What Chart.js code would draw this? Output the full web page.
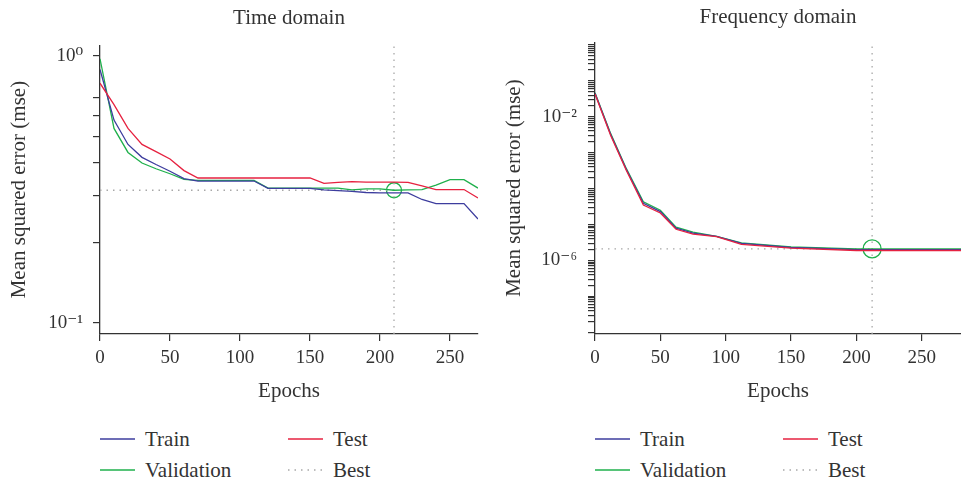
<!DOCTYPE html>
<html lang="en">
<head>
<meta charset="utf-8"/>
<title>Training performance: time and frequency domain</title>
<script src="https://cdn.jsdelivr.net/npm/chart.js"></script>
<style>
  body {
    margin: 0;
    background: #fff;
    color: #333;
    font-family: 'Liberation Serif', 'DejaVu Serif', serif;
  }
  #page {
    position: relative;
    width: 961px;
    height: 483px;
    overflow: hidden;
  }
  .panel {
    position: absolute;
    top: 0;
    height: 410px;
  }
  .key {
    position: absolute;
    height: 26px;
    display: flex;
    align-items: center;
    font-size: 21px;
    white-space: nowrap;
  }
  .key svg {
    margin-right: 10px;
  }
</style>
</head>
<body>
<div id="page">
  <div class="panel" style="left:0;width:480px"><canvas id="timeChart"></canvas></div>
  <div class="panel" style="left:480px;width:481px"><canvas id="freqChart"></canvas></div>
</div>
<script>
  // ---- time domain ----
  const timeEpochs = [0, 10, 20, 30, 40, 50, 60, 70, 80, 90, 100, 110, 120, 130,
                      140, 150, 160, 170, 180, 190, 200, 210, 220, 230, 240, 250, 260, 270];
  const timeTrain = [0.889, 0.575, 0.466, 0.417, 0.392, 0.370, 0.347, 0.340, 0.340, 0.340,
                     0.340, 0.340, 0.319, 0.319, 0.319, 0.319, 0.315, 0.313, 0.311, 0.308,
                     0.307, 0.307, 0.307, 0.290, 0.280, 0.280, 0.280, 0.245];
  const timeValid = [0.975, 0.535, 0.435, 0.397, 0.378, 0.362, 0.345, 0.342, 0.342, 0.342,
                     0.342, 0.342, 0.320, 0.320, 0.320, 0.320, 0.320, 0.320, 0.315, 0.318,
                     0.318, 0.314, 0.315, 0.316, 0.328, 0.344, 0.344, 0.320];
  const timeTest = [0.790, 0.657, 0.535, 0.466, 0.438, 0.411, 0.372, 0.349, 0.349, 0.349,
                    0.349, 0.349, 0.349, 0.349, 0.349, 0.349, 0.333, 0.336, 0.338, 0.337,
                    0.337, 0.337, 0.336, 0.326, 0.316, 0.316, 0.316, 0.294];
  const timeBestEpoch = 210;
  const timeBestValue = 0.314;

  // ---- frequency domain ----
  const freqEpochs = [0, 12, 24, 37, 50, 62, 75, 93, 112, 150, 200, 280];
  const freqTrain = [4.5e-2, 3.2e-3, 3.4e-4, 3.9e-5, 2.3e-5, 7.9e-6, 5.8e-6, 4.7e-6, 3.0e-6, 2.3e-6, 2.0e-6, 2.0e-6];
  const freqValid = [4.7e-2, 3.4e-3, 3.6e-4, 4.3e-5, 2.5e-5, 8.5e-6, 6.2e-6, 4.7e-6, 3.1e-6, 2.4e-6, 2.1e-6, 2.1e-6];
  const freqTest  = [4.3e-2, 3.0e-3, 3.2e-4, 3.5e-5, 2.1e-5, 7.4e-6, 5.4e-6, 4.6e-6, 2.8e-6, 2.2e-6, 1.9e-6, 1.9e-6];
  const freqBestEpoch = 212;
  const freqBestValue = 2.1e-6;

  // axis ticks
  const epochTicks = [0, 50, 100, 150, 200, 250];
  const timeYTicks = [0.1, 0.2, 0.3, 0.4, 0.5, 0.6, 0.7, 1];
  const timeYLabels = ['10⁻¹', '', '', '', '', '', '', '10⁰'];
  const freqYLabelled = [1e-6, 1e-2];
  const freqYLabels = ['10⁻⁶', '10⁻²'];

  const seriesNames = ['Train', 'Validation', 'Test', 'Best'];
  const colors = { train: '#3d3d9e', valid: '#1fb04c', test: '#e62240', best: '#a8a8a8' };
  const ink = '#333';
  const serif = "'Liberation Serif', 'DejaVu Serif', serif";

  Chart.defaults.font.family = serif;
  Chart.defaults.color = ink;

  function pairs(xs, ys) {
    return xs.map((x, i) => ({ x: x, y: ys[i] }));
  }

  function lineSet(label, xs, ys, color) {
    return {
      label: label,
      data: pairs(xs, ys),
      borderColor: color,
      backgroundColor: color,
      borderWidth: 1.3,
      pointRadius: 0,
      tension: 0,
      fill: false
    };
  }

  function bestSets(epoch, value, yMin, yMax, radius) {
    const dotted = { borderColor: colors.best, borderWidth: 1.3, borderDash: [1.5, 5], pointRadius: 0, fill: false };
    return [
      Object.assign({ label: 'Best', data: [{ x: 0, y: value }, { x: epoch, y: value }] }, dotted),
      Object.assign({ label: 'Best', data: [{ x: epoch, y: yMin }, { x: epoch, y: yMax }] }, dotted),
      {
        label: 'Best point',
        data: [{ x: epoch, y: value }],
        showLine: false,
        pointRadius: radius,
        pointBorderWidth: 1.3,
        pointBorderColor: colors.valid,
        pointBackgroundColor: 'rgba(0,0,0,0)'
      }
    ];
  }

  function makeChart(id, cfg) {
    const axisGrid = { display: true, drawOnChartArea: false, drawTicks: true, tickLength: 7, color: ink, lineWidth: 1.2 };
    const axisBorder = { display: true, color: ink, width: 1.3 };
    return new Chart(document.getElementById(id), {
      type: 'line',
      data: {
        datasets: [
          lineSet('Test', cfg.epochs, cfg.test, colors.test),
          lineSet('Train', cfg.epochs, cfg.train, colors.train),
          lineSet('Validation', cfg.epochs, cfg.valid, colors.valid)
        ].concat(bestSets(cfg.bestEpoch, cfg.bestValue, cfg.yMin, cfg.yMax, cfg.radius))
      },
      options: {
        responsive: true,
        maintainAspectRatio: false,
        animation: false,
        // the best-epoch circle would otherwise add its radius as padding on every side
        layout: { autoPadding: false, padding: { left: 0, right: cfg.padRight, top: 0, bottom: 4 } },
        plugins: {
          legend: { display: false },
          tooltip: { enabled: false },
          title: {
            display: true,
            text: cfg.title,
            fullSize: false,
            color: ink,
            font: { size: 21, weight: 'normal' },
            padding: cfg.titlePad
          }
        },
        scales: {
          x: {
            type: 'linear',
            min: 0,
            max: cfg.xMax,
            grid: axisGrid,
            border: axisBorder,
            afterBuildTicks: s => { s.ticks = epochTicks.map(v => ({ value: v })); },
            // fixed band height, and no extra room for the end labels
            afterFit: s => { s.height = 72; s.paddingLeft = 0; s.paddingRight = 0; },
            ticks: { font: { size: 19 }, padding: 6, maxRotation: 0, autoSkip: false, color: ink },
            title: { display: true, text: 'Epochs', font: { size: 21 }, padding: { top: 0, bottom: 2 }, color: ink }
          },
          y: {
            type: 'logarithmic',
            min: cfg.yMin,
            max: cfg.yMax,
            grid: axisGrid,
            border: axisBorder,
            afterBuildTicks: s => { s.ticks = cfg.yTicks.map(v => ({ value: v })); },
            afterFit: s => { s.width = cfg.yWidth; s.paddingTop = 0; s.paddingBottom = 0; },
            ticks: {
              font: { size: 19 },
              padding: cfg.yTickPad,
              autoSkip: false,
              color: ink,
              callback: (value, index) => cfg.yLabels[index]
            },
            title: {
              display: true,
              text: 'Mean squared error (mse)',
              font: { size: 21 },
              padding: { top: cfg.yTitlePad, bottom: 0 },
              color: ink
            }
          }
        }
      }
    });
  }

  // minor ticks of the frequency axis: every m x 10^k
  const freqYTicks = [];
  const freqYTickLabels = [];
  for (let k = -8; k <= 0; k++) {
    for (let m = 1; m <= 9; m++) {
      const v = m * Math.pow(10, k);
      if (v < 9e-9 || v > 1.19) continue;
      freqYTicks.push(v);
      const j = freqYLabelled.findIndex(t => Math.abs(t - v) / t < 1e-9);
      freqYTickLabels.push(j >= 0 ? freqYLabels[j] : '');
    }
  }

  makeChart('timeChart', {
    title: 'Time domain',
    epochs: timeEpochs, train: timeTrain, valid: timeValid, test: timeTest,
    bestEpoch: timeBestEpoch, bestValue: timeBestValue,
    xMax: 270, yMin: 0.091, yMax: 1.096,
    yTicks: timeYTicks, yLabels: timeYLabels,
    yWidth: 100, yTickPad: 10, yTitlePad: 7,
    titlePad: { top: 6, bottom: 14 }, padRight: 2, radius: 7.5
  });

  makeChart('freqChart', {
    title: 'Frequency domain',
    epochs: freqEpochs, train: freqTrain, valid: freqValid, test: freqTest,
    bestEpoch: freqBestEpoch, bestValue: freqBestValue,
    xMax: 280, yMin: 9e-9, yMax: 1.19,
    yTicks: freqYTicks, yLabels: freqYTickLabels,
    yWidth: 115, yTickPad: 11, yTitlePad: 22,
    titlePad: { top: 5, bottom: 12 }, padRight: 0, radius: 9
  });

  // legends under each panel, two columns by two rows
  function keyLine(color, dotted) {
    const dash = dotted ? ' stroke-dasharray="1.5 5"' : '';
    return '<svg width="35" height="4"><line x1="0" y1="2" x2="35" y2="2" stroke="' + color +
           '" stroke-width="1.3"' + dash + '/></svg>';
  }

  function addLegend(col1, col2) {
    const page = document.getElementById('page');
    const keyColors = [colors.train, colors.valid, colors.test, colors.best];
    const spots = [[col1, 439], [col1, 470], [col2, 439], [col2, 470]];
    seriesNames.forEach((name, i) => {
      const d = document.createElement('div');
      d.className = 'key';
      d.style.left = spots[i][0] + 'px';
      d.style.top = (spots[i][1] - 13) + 'px';
      d.innerHTML = keyLine(keyColors[i], name === 'Best') + '<span>' + name + '</span>';
      page.appendChild(d);
    });
  }

  addLegend(100, 288);
  addLegend(595, 783);
</script>
</body>
</html>
